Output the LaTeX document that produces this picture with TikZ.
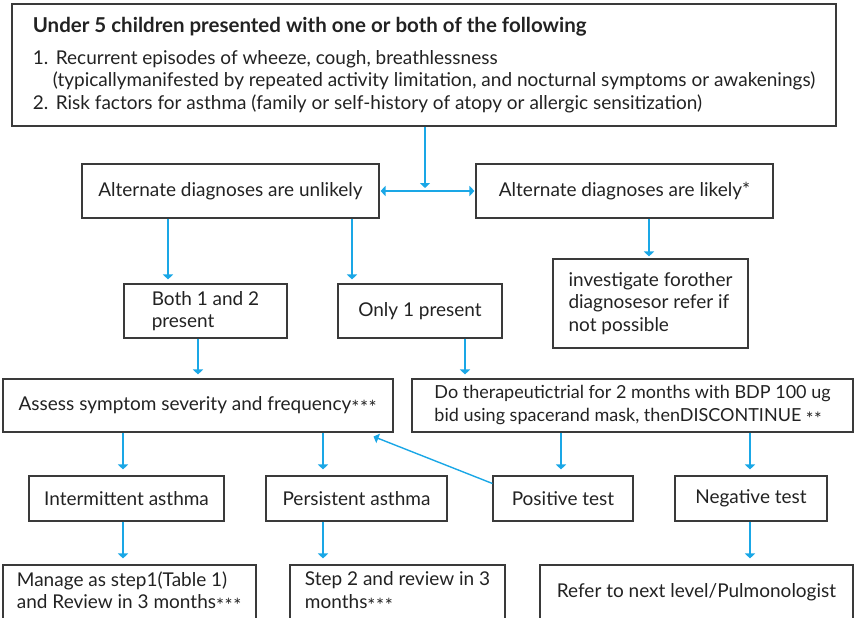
\documentclass[tikz,border=0pt]{standalone}
\usepackage{fontspec}
\setmainfont{Lato}
\usetikzlibrary{arrows.meta}
\definecolor{flow}{HTML}{1AA7E6}
\definecolor{edge}{HTML}{3A3A3A}
\definecolor{ink}{HTML}{222222}
% footnote stars set at mid-height
\newcommand{\midstar}{\raisebox{-0.22em}{*}\kern0.6pt}

\begin{document}
\begin{tikzpicture}[x=1pt,y=-1pt,
  box/.style={draw=edge, line width=1.1pt, inner sep=0pt, align=left, text=ink,
    font=\fontsize{19}{22.5}\selectfont},
  flowarrow/.style={draw=flow, line width=1.4pt, -{Triangle[length=5pt,width=10pt]}, shorten >=4pt},
  bothways/.style={draw=flow, line width=1.4pt, {Triangle[length=5pt,width=10pt]}-{Triangle[length=5pt,width=10pt]}},
]
\useasboundingbox (0,0) rectangle (855,618);
\clip (0,0) rectangle (855,618);

% presenting features
\node[box, minimum width=824pt, minimum height=122pt] (top) at (424,65)
  {{\fontsize{20.5}{22.5}\selectfont\bfseries Under 5 children presented with one or both of the following}\\[9pt]
   \makebox[23pt][l]{1.}Recurrent episodes of wheeze, cough, breathlessness\\
   \hspace*{20pt}(typicallymanifested by repeated activity limitation, and nocturnal symptoms or awakenings)\\
   \makebox[23pt][l]{2.}Risk factors for asthma (family or self-history of atopy or allergic sensitization)};

% alternate diagnoses
\node[box, minimum width=297pt, minimum height=54pt] (unlikely) at (230.5,191) {Alternate diagnoses are unlikely};
\node[box, minimum width=297pt, minimum height=54pt] (likely) at (624.5,191) {Alternate diagnoses are likely*};

% second level
\node[box, minimum width=163pt, minimum height=54pt] (both) at (205.5,311) {Both 1 and 2\\present};
\node[box, minimum width=164pt, minimum height=54pt] (only) at (420,311) {Only 1 present};
\node[box, minimum width=195pt, minimum height=89pt] (investigate) at (650.5,303.5)
  {investigate forother\\diagnosesor refer if\\not possible};

% assessment and trial
\node[box, minimum width=390pt, minimum height=53pt] (assess) at (198,405.5) {Assess symptom severity and frequency\midstar\midstar\midstar};
\node[box, minimum width=441pt, minimum height=53pt, font=\fontsize{18}{22.5}\selectfont] (trial) at (632.5,405.5)
  {Do therapeutictrial for 2 months with BDP 100 ug\\bid using spacerand mask, thenDISCONTINUE \midstar\midstar};

% outcomes
\node[box, minimum width=195pt, minimum height=45pt] (intermittent) at (126.5,498.5) {Intermittent asthma};
\node[box, minimum width=181pt, minimum height=45pt] (persistent) at (356.5,498.5) {Persistent asthma};
\node[box, minimum width=140pt, minimum height=45pt] (positive) at (563,498.5) {Positive test};
\node[box, minimum width=152pt, minimum height=45pt] (negative) at (751,498.5) {Negative test};

% management
\node[box, minimum width=253pt, minimum height=54pt] (manage) at (129.5,592) {Manage as step1(Table 1)\\and Review in 3 months\midstar\midstar\midstar};
\node[box, minimum width=215pt, minimum height=54pt] (steptwo) at (397.5,592) {Step 2 and review in 3\\months\midstar\midstar\midstar};
\node[box, minimum width=313pt, minimum height=54pt] (refer) at (696.5,592) {Refer to next level/Pulmonologist};

% connectors
\coordinate (split) at (425,190);
\draw[flowarrow, shorten >=2pt] (top.south -| split) -- (split);
\draw[bothways, shorten >=1pt, shorten <=1pt] (unlikely.east) -- (likely.west);

\draw[flowarrow] (unlikely.south -| 168,0) -- (both.north -| 168,0);
\draw[flowarrow] (unlikely.south -| 352,0) -- (only.north -| 352,0);
\draw[flowarrow, shorten >=2pt] (likely.south -| 649,0) -- (investigate.north -| 649,0);

\draw[flowarrow] (both.south -| 198,0) -- (assess.north -| 198,0);
\draw[flowarrow] (only.south -| 465,0) -- (trial.north -| 465,0);

\draw[flowarrow, shorten >=6pt] (assess.south -| 123,0) -- (intermittent.north -| 123,0);
\draw[flowarrow, shorten >=6pt] (assess.south -| 323,0) -- (persistent.north -| 323,0);
\draw[flowarrow, shorten >=6pt] (trial.south -| 561,0) -- (positive.north -| 561,0);
\draw[flowarrow, shorten >=6pt] (trial.south -| 750,0) -- (negative.north -| 750,0);
\draw[flowarrow, shorten >=0pt] (positive.168) -- ([xshift=-20pt,yshift=-4pt]assess.south east);

\draw[flowarrow, shorten >=6pt] (intermittent.south -| 123,0) -- (manage.north -| 123,0);
\draw[flowarrow, shorten >=6pt] (persistent.south -| 323,0) -- (steptwo.north -| 323,0);
\draw[flowarrow, shorten >=6pt] (negative.south -| 750,0) -- (refer.north -| 750,0);
\end{tikzpicture}
\end{document}
